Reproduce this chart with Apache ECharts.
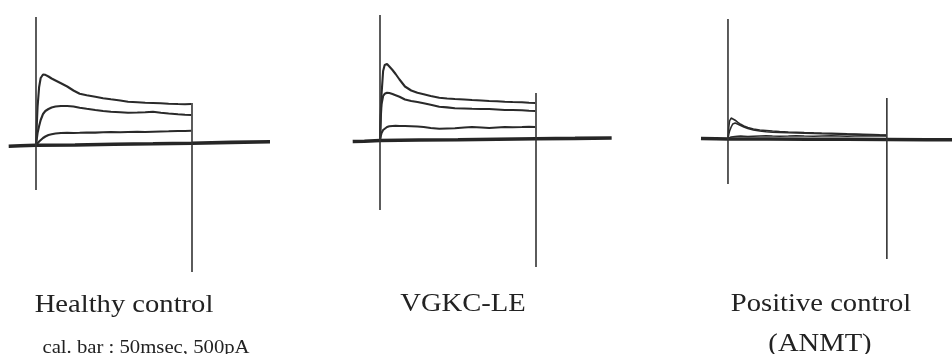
<!DOCTYPE html>
<html>
<head>
<meta charset="utf-8">
<script src="https://cdn.jsdelivr.net/npm/echarts@6/dist/echarts.min.js"></script>
<style>
  html, body { margin: 0; padding: 0; background: #fff; }
  #chart { width: 952px; height: 354px; }
</style>
</head>
<body>
<div id="chart"></div>
<script>
// time (ms) of the samples read along the 200 ms voltage step
const stepTime = [0, 1, 2, 4, 6, 9, 12, 16, 20, 25, 32, 40, 48, 56, 65, 76, 86, 96, 108, 118, 130, 140, 150, 160, 170, 182, 191, 199];

// currents (pA) per step
const healthyTop = [0, 200, 380, 580, 670, 705, 702, 685, 665, 645, 617, 585, 545, 512, 497, 482, 468, 457, 445, 433, 428, 423, 420, 417, 413, 410, 408, 410];
const healthyMid = [0, 60, 120, 190, 250, 310, 340, 360, 375, 385, 390, 390, 385, 372, 362, 350, 340, 333, 328, 323, 325, 327, 332, 322, 315, 308, 303, 300];
const healthyLow = [0, 10, 20, 35, 50, 70, 85, 100, 108, 115, 120, 122, 120, 122, 125, 124, 127, 130, 128, 130, 132, 130, 133, 135, 137, 140, 140, 142];

const vgkcTop = [0, 280, 460, 690, 750, 760, 735, 700, 660, 605, 535, 495, 472, 458, 440, 423, 415, 410, 405, 400, 395, 390, 388, 382, 380, 378, 372, 370];
const vgkcMid = [0, 230, 360, 440, 462, 472, 470, 460, 448, 433, 405, 390, 380, 367, 352, 333, 326, 317, 315, 312, 310, 310, 305, 300, 300, 298, 292, 290];
const vgkcLow = [0, 40, 70, 100, 120, 130, 138, 140, 142, 140, 140, 138, 135, 130, 120, 112, 115, 118, 125, 130, 125, 120, 125, 130, 128, 130, 132, 130];

const anmtTop = [0, 120, 180, 210, 203, 188, 168, 147, 130, 115, 100, 90, 85, 80, 75, 70, 68, 65, 62, 60, 58, 55, 52, 50, 48, 45, 42, 40];
const anmtMid = [0, 50, 80, 120, 150, 160, 150, 135, 120, 105, 90, 80, 72, 68, 65, 62, 60, 58, 55, 52, 50, 48, 46, 44, 42, 40, 38, 36];
const anmtLow = [0, 10, 15, 20, 25, 25, 28, 30, 28, 25, 28, 30, 32, 30, 28, 30, 32, 30, 28, 30, 32, 30, 28, 30, 32, 30, 30, 30];

// holding level, before / during / after the step
const healthyBaseTime = [-35, -20, 0, 50, 100, 150, 200, 250, 300];
const healthyBase = [-12, -8, -3, 0, 8, 12, 18, 26, 32];
const vgkcBaseTime = [-35, -20, 0, 50, 100, 150, 200, 250, 297];
const vgkcBase = [-15, -12, -5, 0, 2, 8, 12, 16, 20];
const anmtBaseTime = [-34, -15, 0, 50, 100, 150, 200, 250, 282];
const anmtBase = [5, 3, 0, 0, -2, -3, -5, -8, -8];

// capacitive artifacts at step on / off: [time, top, bottom]
const healthyArtifacts = [[0, 1280, -450], [200, 420, -1270]];
const vgkcArtifacts = [[0, 1250, -700], [200, 470, -1270]];
const anmtArtifacts = [[0, 1200, -450], [200, 410, -1200]];

const panelTitles = ['Healthy control', 'VGKC-LE', 'Positive control'];
const subTitle = '(ANMT)';
const calBar = 'cal. bar : 50msec, 500pA';

const zip = (t, v) => t.map((x, i) => [x, v[i]]);

const panels = [
  { traces: [healthyTop, healthyMid, healthyLow], baseT: healthyBaseTime, base: healthyBase, art: healthyArtifacts,
    grid: { left: 4.8, top: 15, width: 265.2, height: 270 }, xMax: 300 },
  { traces: [vgkcTop, vgkcMid, vgkcLow], baseT: vgkcBaseTime, base: vgkcBase, art: vgkcArtifacts,
    grid: { left: 348.8, top: 10, width: 265.2, height: 270 }, xMax: 300 },
  { traces: [anmtTop, anmtMid, anmtLow], baseT: anmtBaseTime, base: anmtBase, art: anmtArtifacts,
    grid: { left: 696.2, top: 9, width: 256, height: 270 }, xMax: 282 }
];

const ink = '#2a2a2a';
const grids = [], xAxes = [], yAxes = [], series = [];

panels.forEach((p, i) => {
  grids.push(p.grid);
  xAxes.push({ type: 'value', gridIndex: i, min: -40, max: p.xMax, show: false });
  yAxes.push({ type: 'value', gridIndex: i, min: -1400, max: 1300, show: false });
  const common = { type: 'line', xAxisIndex: i, yAxisIndex: i, showSymbol: false, symbol: 'none', clip: false, silent: true };
  series.push(Object.assign({}, common, {
    data: zip(p.baseT, p.base), lineStyle: { color: '#262626', width: 3.6 }
  }));
  p.traces.forEach(tr => {
    series.push(Object.assign({}, common, {
      data: zip(stepTime, tr), lineStyle: { color: ink, width: i === 2 ? 1.6 : 2.1 }
    }));
  });
  p.art.forEach(a => {
    series.push(Object.assign({}, common, {
      data: [[a[0], a[1]], [a[0], a[2]]], lineStyle: { color: '#333', width: 1.6 }
    }));
  });
});

const label = (text, x, y, size, sx) => ({
  type: 'text', x: x, y: y, scaleX: sx, silent: true,
  style: { text: text, x: 0, y: 0, textAlign: 'center', textVerticalAlign: 'middle',
    font: size + 'px "Liberation Serif", "Times New Roman", serif', fill: '#222' }
});

const chart = echarts.init(document.getElementById('chart'));
chart.setOption({
  animation: false,
  backgroundColor: '#fff',
  grid: grids,
  xAxis: xAxes,
  yAxis: yAxes,
  series: series,
  graphic: [
    label(panelTitles[0], 124, 305, 26, 1.1),
    label(panelTitles[1], 463, 304, 26, 1.1),
    label(panelTitles[2], 821, 304, 26, 1.1),
    label(subTitle, 820, 344, 26, 1.1),
    label(calBar, 146, 348, 18.5, 1.12)
  ]
});
</script>
</body>
</html>
